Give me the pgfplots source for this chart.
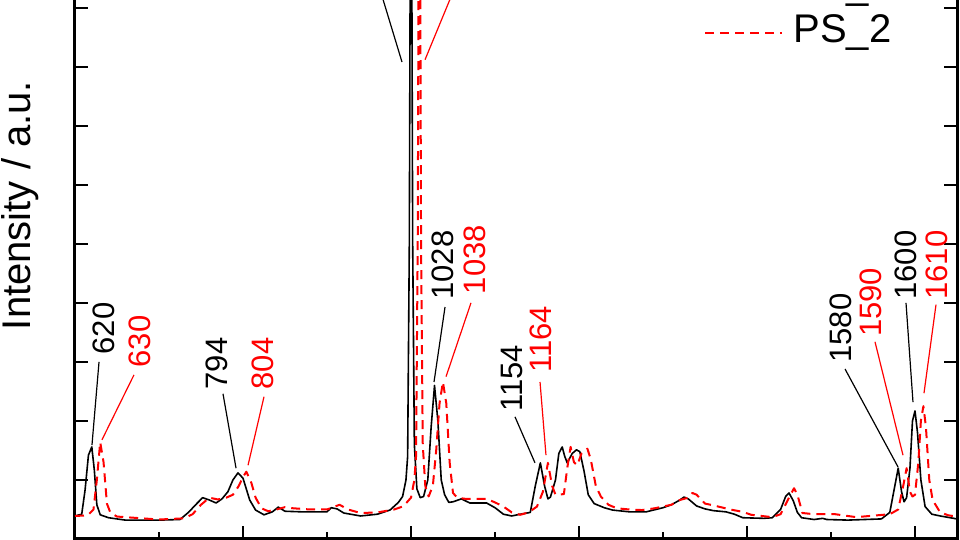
\documentclass[border=0pt]{standalone}
\usepackage{fontspec}
\setmainfont{Liberation Sans}
\usepackage{pgfplots}
\pgfplotsset{compat=1.18}
\newcommand{\annot}{\fontsize{15.5}{18}\selectfont}
\newcommand{\bigf}{\fontsize{20}{24}\selectfont}
\begin{document}
\begin{tikzpicture}
\useasboundingbox (0,0) rectangle (480pt,270pt);
\clip (0,0) rectangle (480pt,270pt);
\begin{axis}[
  at={(37.5pt,0.5pt)}, anchor=south west,
  scale only axis, width=441pt, height=333.5pt,
  xmin=600, xmax=1650, ymin=0, ymax=11.3,
  xtick={600,800,...,1600}, minor xtick={700,900,...,1500},
  ytick={0,1,...,11},
  xticklabels={}, yticklabels={},
  tick align=inside, ytick pos=both, xtick pos=both,
  major tick length=6.5pt, minor tick length=3.5pt,
  axis line style={line width=1.5pt},
  tick style={black, line width=1pt},
  ylabel={Intensity / a.u.},
  ylabel style={font=\bigf, at={(axis description cs:-0.0408,0.5)}, anchor=south, inner sep=0pt},
  legend style={draw=none, fill=none, inner sep=0pt, font=\bigf,
    at={(axis description cs:0.926,0.729)}, anchor=south east,
    row sep=2.5pt, column sep=5pt,
    nodes={inner sep=0pt, text height=14.5pt, text depth=5pt}},
  legend cell align=left,
  legend image code/.code={\draw[#1] (0pt,0pt) -- (38.5pt,0pt);},
]
\addplot[black, line width=0.8pt, line join=round] coordinates {
(600,0.39)(608,0.42)(612,0.83)(616,1.42)(620,1.56)(623,1.17)(626,0.58)(630,0.41)(640,0.36)(660,0.32)(700,0.32)
(725,0.33)(735,0.45)(745,0.6)(752,0.70)(760,0.66)(768,0.61)(775,0.68)(782,0.80)(788,1.0)(794,1.12)(800,1.03)
(808,0.66)(815,0.49)(825,0.41)(835,0.46)(842,0.54)(850,0.47)(870,0.46)(900,0.46)(905,0.53)(912,0.51)(920,0.44)
(940,0.39)(960,0.42)(975,0.49)(985,0.62)(990,0.72)(994,1.0)(996,1.4)(998,5)(1000,14)(1002,5)(1004,1.6)(1007,0.85)
(1011,0.7)(1015,0.72)(1020,1.0)(1024,1.9)(1028,2.6)(1032,2.0)(1036,1.0)(1040,0.75)(1045,0.62)(1050,0.63)
(1060,0.68)(1070,0.61)(1080,0.61)(1090,0.61)(1100,0.53)(1110,0.42)(1120,0.39)(1130,0.42)(1142,0.45)(1148,0.9)
(1154,1.29)(1159,0.9)(1163,0.68)(1166,0.71)(1172,1.0)(1176,1.45)(1180,1.56)(1183,1.4)(1186,1.29)(1192,1.45)
(1197,1.51)(1201,1.48)(1206,1.15)(1211,0.75)(1218,0.6)(1230,0.53)(1240,0.49)(1260,0.46)(1280,0.46)(1300,0.53)
(1310,0.58)(1320,0.66)(1325,0.71)(1330,0.68)(1340,0.56)(1350,0.51)(1360,0.48)(1375,0.46)(1385,0.42)(1395,0.36)
(1420,0.35)(1430,0.36)(1440,0.5)(1446,0.72)(1450,0.78)(1455,0.65)(1460,0.45)(1465,0.36)(1480,0.33)(1490,0.35)
(1495,0.33)(1520,0.32)(1560,0.34)(1570,0.45)(1576,0.9)(1580,1.2)(1584,0.8)(1587,0.63)(1590,0.7)(1594,1.2)
(1597,2.0)(1600,2.17)(1603,1.8)(1607,1.0)(1612,0.55)(1620,0.42)(1630,0.39)(1650,0.34)
};
\addlegendentry{PS\_1}
\addplot[red, line width=1pt, line join=round, dash pattern=on 4.5pt off 3pt] coordinates {
(600,0.39)(615,0.40)(622,0.5)(626,1.0)(630,1.64)(634,1.3)(638,0.6)(642,0.45)(650,0.38)(670,0.36)(700,0.33)
(730,0.35)(740,0.42)(750,0.58)(760,0.70)(770,0.67)(780,0.70)(788,0.75)(795,0.9)(800,1.05)(804,1.14)(810,0.95)
(815,0.7)(822,0.52)(830,0.47)(840,0.5)(850,0.54)(860,0.52)(880,0.50)(900,0.5)(915,0.58)(925,0.5)(940,0.44)
(960,0.45)(980,0.5)(990,0.55)(995,0.62)(1000,0.7)(1004,1.0)(1006,1.4)(1008,5)(1010,14)(1012,5)(1014,1.6)
(1017,0.9)(1021,0.72)(1026,0.9)(1030,1.5)(1034,2.3)(1038,2.66)(1042,2.3)(1046,1.3)(1050,0.78)(1055,0.7)
(1065,0.68)(1080,0.68)(1090,0.68)(1100,0.62)(1110,0.55)(1120,0.45)(1130,0.41)(1140,0.45)(1150,0.55)(1157,0.8)
(1163,1.29)(1168,0.9)(1172,0.75)(1182,0.76)(1186,1.2)(1190,1.56)(1194,1.3)(1198,1.25)(1203,1.45)(1210,1.53)
(1214,1.35)(1220,0.9)(1226,0.72)(1235,0.58)(1245,0.52)(1260,0.5)(1275,0.49)(1290,0.52)(1310,0.58)(1320,0.66)
(1330,0.7)(1335,0.78)(1340,0.75)(1350,0.6)(1360,0.57)(1380,0.5)(1395,0.46)(1405,0.41)(1430,0.37)(1440,0.42)
(1450,0.7)(1456,0.86)(1460,0.75)(1466,0.44)(1480,0.42)(1495,0.42)(1505,0.42)(1530,0.37)(1570,0.42)(1580,0.5)
(1586,0.9)(1590,1.2)(1594,0.8)(1597,0.72)(1600,0.75)(1604,1.3)(1607,2.0)(1610,2.25)(1613,1.9)(1617,1.0)
(1621,0.66)(1630,0.45)(1640,0.4)(1650,0.38)
};
\addlegendentry{PS\_2}
% annotation lines
\draw[black, line width=0.6pt] (axis cs:620.2,1.59) -- (axis cs:628.6,3.0);
\draw[red, line width=0.6pt] (axis cs:632.1,1.68) -- (axis cs:670.2,2.78);
\draw[black, line width=0.6pt] (axis cs:791.7,1.20) -- (axis cs:776.2,2.46);
\draw[red, line width=0.6pt] (axis cs:806.0,1.25) -- (axis cs:825.0,2.41);
\draw[black, line width=0.6pt] (axis cs:989.3,8.08) -- (axis cs:956.9,9.6);
\draw[red, line width=0.6pt] (axis cs:1016.7,8.12) -- (axis cs:1059.7,9.6);
\draw[black, line width=0.6pt] (axis cs:1027.4,2.66) -- (axis cs:1040.5,3.93);
\draw[red, line width=0.6pt] (axis cs:1041.7,2.75) -- (axis cs:1071.4,4.0);
\draw[black, line width=0.6pt] (axis cs:1147.6,1.29) -- (axis cs:1123.8,2.07);
\draw[red, line width=0.6pt] (axis cs:1160.7,1.42) -- (axis cs:1153.6,2.66);
\draw[black, line width=0.6pt] (axis cs:1579.8,1.22) -- (axis cs:1516.7,2.88);
\draw[red, line width=0.6pt] (axis cs:1585.7,1.42) -- (axis cs:1552.4,3.34);
\draw[black, line width=0.6pt] (axis cs:1597.6,2.32) -- (axis cs:1589.3,4.0);
\draw[red, line width=0.6pt] (axis cs:1610.7,2.47) -- (axis cs:1625.0,3.97);
% annotation labels
\node[black, rotate=90, anchor=west, inner sep=0pt, font=\annot] at (axis cs:633.9,3.12) {620};
\node[red, rotate=90, anchor=west, inner sep=0pt, font=\annot] at (axis cs:677.4,2.90) {630};
\node[black, rotate=90, anchor=west, inner sep=0pt, font=\annot] at (axis cs:769.0,2.53) {794};
\node[red, rotate=90, anchor=west, inner sep=0pt, font=\annot] at (axis cs:823.8,2.53) {804};
\node[black, rotate=90, anchor=west, inner sep=0pt, font=\annot] at (axis cs:1038.1,4.05) {1028};
\node[red, rotate=90, anchor=west, inner sep=0pt, font=\annot] at (axis cs:1076.2,4.14) {1038};
\node[black, rotate=90, anchor=west, inner sep=0pt, font=\annot] at (axis cs:1120.2,2.15) {1154};
\node[red, rotate=90, anchor=west, inner sep=0pt, font=\annot] at (axis cs:1154.8,2.81) {1164};
\node[black, rotate=90, anchor=west, inner sep=0pt, font=\annot] at (axis cs:1511.9,2.98) {1580};
\node[red, rotate=90, anchor=west, inner sep=0pt, font=\annot] at (axis cs:1547.6,3.42) {1590};
\node[black, rotate=90, anchor=west, inner sep=0pt, font=\annot] at (axis cs:1589.3,4.05) {1600};
\node[red, rotate=90, anchor=west, inner sep=0pt, font=\annot] at (axis cs:1626.2,4.05) {1610};
\end{axis}
\end{tikzpicture}
\end{document}
